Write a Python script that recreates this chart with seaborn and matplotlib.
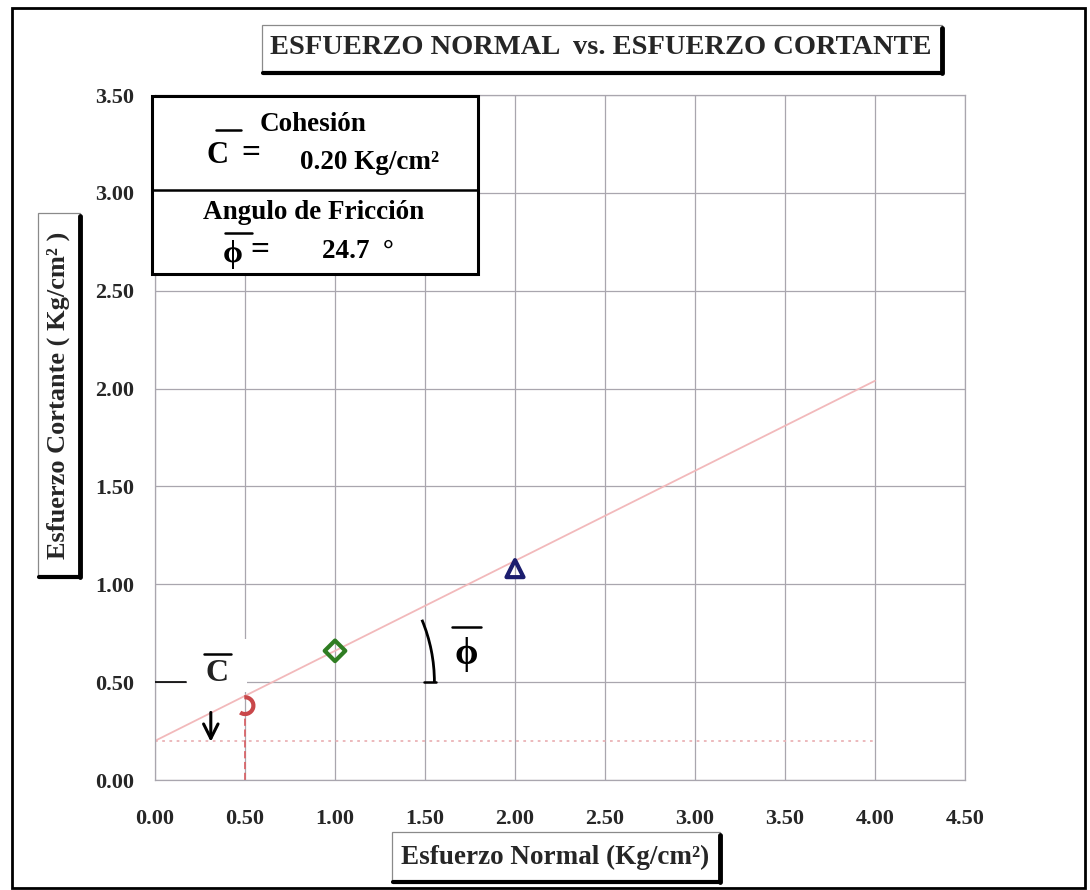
import numpy as np
import matplotlib
matplotlib.use("Agg")
import matplotlib.pyplot as plt
import matplotlib.patches as mpatches
from matplotlib.lines import Line2D
from matplotlib.path import Path
import seaborn as sns
import pandas as pd

# ---- data ---------------------------------------------------------------
normal_stress = [0.5, 1.0, 2.0]          # Kg/cm2
shear_stress = [0.38, 0.66, 1.08]        # Kg/cm2
point_colors = ["#c9474a", "#2f7d22", "#1b1d6e"]
cohesion = 0.20                          # Kg/cm2
friction_angle = 24.7                    # degrees
envelope_x = [0.0, 4.0]
x_ticks = [0.0, 0.5, 1.0, 1.5, 2.0, 2.5, 3.0, 3.5, 4.0, 4.5]
y_ticks = [0.0, 0.5, 1.0, 1.5, 2.0, 2.5, 3.0, 3.5]

title = "ESFUERZO NORMAL  vs. ESFUERZO CORTANTE"
x_label = "Esfuerzo Normal (Kg/cm²)"
y_label = "Esfuerzo Cortante ( Kg/cm² )"
PHI = "\u03d5"

# ---- style --------------------------------------------------------------
sns.set_style("white")
plt.rcParams["font.family"] = ["Liberation Serif", "DejaVu Serif"]
plt.rcParams["font.weight"] = "bold"

W, H = 1090, 890
fig = plt.figure(figsize=(W / 100, H / 100), dpi=100)


def fx(px):
    return px / W


def fy(py):
    return 1 - py / H


ax = fig.add_axes([fx(155), fy(780), fx(965) - fx(155), fy(95) - fy(780)])
ax.set_xlim(0, 4.5)
ax.set_ylim(0, 3.5)
ax.set_axisbelow(True)
ax.grid(True, color="#a9a6ae", lw=0.9)
for s in ax.spines.values():
    s.set_color("#a9a6ae")
    s.set_linewidth(0.9)
ax.set_xticks(x_ticks)
ax.set_yticks(y_ticks)
ax.set_xticklabels([f"{v:.2f}" for v in x_ticks])
ax.set_yticklabels([f"{v:.2f}" for v in y_ticks])
ax.tick_params(axis="both", direction="out", length=5, color="#9a9a9a",
               labelsize=16)
ax.tick_params(axis="x", pad=16)
ax.tick_params(axis="y", pad=10)
for lab in ax.get_xticklabels() + ax.get_yticklabels():
    lab.set_fontweight("bold")

# ---- Mohr-Coulomb envelope ---------------------------------------------
tan_phi = np.tan(np.radians(friction_angle))
env = pd.DataFrame({"x": envelope_x,
                    "y": [cohesion + tan_phi * v for v in envelope_x]})
sns.lineplot(data=env, x="x", y="y", color="#f2b9bb", lw=1.3, ax=ax,
             zorder=2)
coh = pd.DataFrame({"x": envelope_x, "y": [cohesion, cohesion]})
sns.lineplot(data=coh, x="x", y="y", color="#eab3b6", lw=1.3, ax=ax,
             linestyle=(0, (1.5, 2.5)), zorder=2)

# clear patch behind the cohesion label
ax.add_patch(mpatches.Rectangle((0.18, 0.45), 0.33, 0.27, facecolor="white",
                                edgecolor="none", zorder=1))

# drop line from first test point
ax.plot([normal_stress[0], normal_stress[0]], [0, shear_stress[0] - 0.03],
        color="#d9656a", lw=1.3, linestyle=(0, (4, 2)), zorder=2)

# ---- test points ---------------------------------------------------------
arc_marker = Path.arc(-125, 95)
markers = [arc_marker, "D", "^"]
sizes = [150, 110, 150]
for x, y, c, m, s in zip(normal_stress, shear_stress, point_colors,
                         markers, sizes):
    pt = pd.DataFrame({"x": [x], "y": [y]})
    sns.scatterplot(data=pt, x="x", y="y", marker=m, s=s, ax=ax,
                    facecolor="none", edgecolor=c, linewidth=3, zorder=4)
ax.set_xlabel("")
ax.set_ylabel("")

# ---- cohesion annotation ------------------------------------------------
ax.plot([0.0, 0.17], [0.5, 0.5], color="black", lw=1.2, zorder=3)
ax.text(0.345, 0.545, "C", fontsize=23, fontweight="bold", ha="center",
        va="center", color="#222222", zorder=5)
ax.plot([0.27, 0.42], [0.645, 0.645], color="black", lw=1.8, zorder=5)
ax.annotate("", xy=(0.31, 0.195), xytext=(0.31, 0.345),
            arrowprops=dict(arrowstyle="->,head_length=0.4,head_width=0.2",
                            color="black", lw=2.2, mutation_scale=26,
                            shrinkA=0, shrinkB=0),
            zorder=5)

# ---- friction angle annotation -----------------------------------------
x_int = (0.5 - cohesion) / tan_phi
rx, ry = 162 / 180, 162 / 195.7
ax.add_patch(mpatches.Arc((x_int, 0.5), 2 * rx, 2 * ry, theta1=0, theta2=21,
                          color="black", lw=2, zorder=3))
ax.plot([x_int + rx - 0.06, x_int + rx + 0.01], [0.5, 0.5], color="black",
        lw=1.8, zorder=3)
ax.text(1.73, 0.64, PHI, fontsize=27, fontweight="bold", ha="center",
        va="center", color="black", zorder=5)
ax.plot([1.65, 1.81], [0.78, 0.78], color="black", lw=1.8, zorder=5)

# ---- result box -------------------------------------------------------
ax.add_patch(mpatches.Rectangle((-0.017, 2.586), 1.811, 0.909,
                                facecolor="white", edgecolor="black", lw=2.2,
                                zorder=6, clip_on=False))
ax.plot([-0.017, 1.794], [3.015, 3.015], color="black", lw=1.8, zorder=7,
        clip_on=False)
tk = dict(fontsize=19.5, fontweight="bold", zorder=8, va="center",
          color="black")
ax.text(0.88, 3.35, "Cohesión", ha="center", **tk)
ax.text(0.35, 3.19, "C", ha="center", **dict(tk, fontsize=22))
ax.plot([0.34, 0.48], [3.32, 3.32], color="black", lw=1.8, zorder=8)
ax.text(0.53, 3.20, "=", ha="center", **dict(tk, fontsize=24))
ax.text(1.19, 3.155, f"{cohesion:.2f} Kg/cm²", ha="center", **tk)
ax.text(0.88, 2.90, "Angulo de Fricción", ha="center", **tk)
ax.text(0.43, 2.685, PHI, ha="center", **dict(tk, fontsize=23))
ax.plot([0.39, 0.54], [2.795, 2.795], color="black", lw=1.8, zorder=8)
ax.text(0.585, 2.705, "=", ha="center", **dict(tk, fontsize=24))
ax.text(1.13, 2.70, f"{friction_angle:.1f}  °", ha="center", **tk)


# ---- framed labels with drop shadow ---------------------------------------
def shadow_box(x0, y0, x1, y1):
    fig.patches.append(mpatches.Rectangle(
        (fx(x0), fy(y1)), fx(x1) - fx(x0), fy(y0) - fy(y1),
        transform=fig.transFigure, facecolor="white", edgecolor="#8a8a8a",
        lw=0.9, zorder=1))
    fig.lines.append(Line2D([fx(x1), fx(x1)], [fy(y0 + 3), fy(y1)],
                            transform=fig.transFigure, color="black", lw=3.5,
                            zorder=2))
    fig.lines.append(Line2D([fx(x0 + 1), fx(x1)], [fy(y1), fy(y1)],
                            transform=fig.transFigure, color="black", lw=3,
                            zorder=2))


shadow_box(262, 25, 942, 73)
fig.text(fx(601), fy(48), title, fontsize=20.5, fontweight="bold",
         ha="center", va="center", zorder=3)

shadow_box(392, 832, 720, 882)
fig.text(fx(555), fy(857), x_label, fontsize=19.5, fontweight="bold",
         ha="center", va="center", zorder=3)

shadow_box(38, 213, 80, 577)
fig.text(fx(58), fy(395), y_label, fontsize=19, fontweight="bold",
         rotation=90, ha="center", va="center", zorder=3)

# outer frame
fig.patches.append(mpatches.Rectangle(
    (fx(12), fy(888)), fx(1085) - fx(12), fy(8) - fy(888),
    transform=fig.transFigure, facecolor="none", edgecolor="black", lw=2,
    zorder=0))

fig.savefig("out.png", dpi=100)
